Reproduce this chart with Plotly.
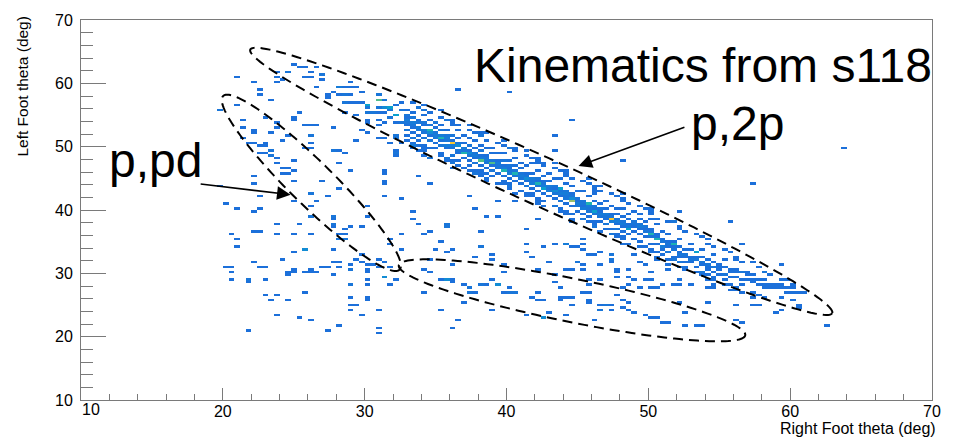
import numpy as np
import plotly.graph_objects as go

# ---------------- data: 2D histogram bins (x deg, y deg, counts) ----------------
BIN = 0.4
XMIN, XMAX, YMIN, YMAX = 10, 70, 10, 70

upper_bins = [
    (23.9,61.9,1),(24.5,61.9,2),(24.8,63.0,1),(25.5,62.8,1),(25.8,62.7,1),(26.6,62.7,1),
    (23.6,61.0,1),(23.7,60.3,1),(24.1,60.6,1),(26.0,61.6,1),(26.4,61.1,1),(25.8,61.0,1),
    (27.1,61.3,2),(27.1,60.5,1),(26.6,59.4,1),(28.0,59.5,2),(28.2,59.3,1),(28.6,59.4,1),
    (29.0,59.4,1),(29.3,59.4,1),(29.1,60.0,1),(27.3,58.3,1),(27.3,57.7,1),(27.6,58.6,1),
    (28.1,58.3,1),(28.5,58.0,1),(28.7,58.3,1),(28.5,57.1,2),(29.0,58.0,1),(29.1,57.1,1),
    (29.4,57.1,1),(29.7,57.1,1),(29.9,58.6,1),(30.0,56.3,1),(30.2,56.0,1),(30.4,56.8,5),
    (30.9,58.0,1),(31.1,58.0,1),(30.8,57.2,2),(31.1,57.2,5),(31.4,57.2,2),(31.1,56.4,2),
    (31.4,56.3,4),(31.6,56.3,5),(30.0,55.2,1),(30.2,55.2,1),(30.6,55.2,2),(30.9,55.2,1),
    (31.3,55.5,1),(30.4,54.4,1),(30.4,53.6,1),(31.1,54.1,1),(31.3,53.6,1),(31.8,54.7,2),
    (32.3,54.9,5),(32.1,53.6,1),(32.5,53.6,2),(32.2,51.8,2),(32.3,51.3,2),(30.9,51.3,1),
    (31.3,51.3,1),(31.8,50.8,1),(32.3,49.4,1),(32.3,49.0,1),(32.8,50.8,1),(33.2,50.2,1),
    (33.5,50.8,1),(29.3,51.0,1),(28.6,55.2,1),(29.3,54.9,1),(30.4,52.1,1),(31.1,53.2,1),
    (29.7,52.5,1),(32.6,55.8,2),(32.2,56.6,1),(32.6,57.0,1),(31.8,55.8,2),
    (36.6,59.1,1),(40.3,58.8,1),(44.5,54.4,1),(43.2,51.9,1),(48.1,47.7,1),(38.6,52.4,1),
    (41.2,49.3,1),(43.2,49.3,1),(42.6,47.4,1),(46.0,43.0,1),(57.4,44.4,1),(63.7,49.6,1),
    (55.6,38.2,1),(56.5,34.8,1),(59.5,31.5,1),(52.2,39.9,1),(51.7,38.0,1),(62.8,21.6,1),
    (31.4,45.8,1),(31.5,44.3,1),(34.7,44.3,1),(35.7,37.6,2),(37.2,42.0,1),(38.6,39.1,1),
    (37.6,40.0,1),(39.3,41.2,1),(40.7,41.5,1),(42.1,38.5,1),(44.0,34.5,1),(45.4,35.4,1),
    (47.3,32.9,1),(48.9,32.9,1),
]

band_bins = [
    (33.0,55.8,1),(33.0,55.0,2),(33.0,54.6,1),(33.0,54.2,3),(33.0,53.8,2),(33.0,53.4,1),(33.0,52.6,2),(33.0,51.8,1),(33.0,51.0,1),
    (33.4,55.4,1),(33.4,54.6,2),(33.4,53.8,3),(33.4,53.4,2),(33.4,53.0,1),(33.4,52.2,1),(33.4,51.4,2),(33.4,50.2,1),
    (33.8,56.2,1),(33.8,54.2,1),(33.8,53.8,2),(33.8,53.0,3),(33.8,52.6,2),(33.8,51.8,1),(33.8,51.0,1),(33.8,49.4,1),
    (34.2,55.0,1),(34.2,53.8,2),(34.2,53.4,1),(34.2,52.6,3),(34.2,52.2,2),(34.2,51.4,2),(34.2,50.2,1),
    (34.6,54.2,1),(34.6,53.4,2),(34.6,52.6,6),(34.6,52.2,4),(34.6,51.8,1),(34.6,51.0,2),(34.6,49.8,1),(34.6,48.2,1),
    (35.0,53.8,2),(35.0,53.0,1),(35.0,52.2,2),(35.0,51.8,3),(35.0,51.4,2),(35.0,50.6,1),(35.0,49.8,1),
    (35.4,53.4,1),(35.4,52.6,2),(35.4,51.8,3),(35.4,51.4,6),(35.4,51.0,1),(35.4,50.2,2),(35.4,49.0,1),
    (35.8,54.2,1),(35.8,52.6,1),(35.8,51.8,2),(35.8,51.4,3),(35.8,51.0,2),(35.8,50.2,3),(35.8,49.8,1),(35.8,48.2,1),
    (36.2,51.8,2),(36.2,51.0,1),(36.2,50.6,10),(36.2,50.2,3),(36.2,49.8,2),(36.2,48.6,2),(36.2,47.4,1),
    (36.6,52.6,1),(36.6,51.4,1),(36.6,50.6,2),(36.6,50.2,4),(36.6,49.4,2),(36.6,49.0,1),(36.6,47.8,1),
    (37.0,51.8,1),(37.0,50.6,1),(37.0,49.8,3),(37.0,49.4,2),(37.0,49.0,6),(37.0,48.2,1),(37.0,46.6,1),
    (37.4,51.4,1),(37.4,50.2,2),(37.4,49.4,1),(37.4,49.0,4),(37.4,48.6,2),(37.4,47.8,1),(37.4,47.0,1),
    (37.8,51.0,1),(37.8,49.8,1),(37.8,49.0,2),(37.8,48.6,3),(37.8,48.2,1),(37.8,47.4,2),(37.8,45.8,1),
    (38.2,50.2,1),(38.2,49.4,2),(38.2,48.6,1),(38.2,48.2,3),(38.2,47.8,7),(38.2,47.0,1),(38.2,46.2,1),
    (38.6,49.8,1),(38.6,48.6,1),(38.6,48.2,2),(38.6,47.8,3),(38.6,47.4,2),(38.6,46.6,1),(38.6,45.0,1),
    (39.0,49.8,1),(39.0,49.0,1),(39.0,47.8,2),(39.0,47.4,7),(39.0,47.0,1),(39.0,46.2,2),(39.0,45.4,1),
    (39.4,49.0,1),(39.4,47.8,1),(39.4,47.4,3),(39.4,47.0,2),(39.4,46.6,2),(39.4,45.8,1),
    (39.8,49.0,1),(39.8,47.8,2),(39.8,47.0,1),(39.8,46.6,3),(39.8,46.2,6),(39.8,45.4,1),(39.8,44.6,1),
    (40.2,47.8,1),(40.2,47.0,2),(40.2,46.6,1),(40.2,46.2,2),(40.2,45.8,3),(40.2,45.0,1),(40.2,43.8,1),
    (40.6,48.2,1),(40.6,47.0,1),(40.6,46.2,2),(40.6,45.8,6),(40.6,45.4,2),(40.6,44.6,1),
    (41.0,47.4,1),(41.0,46.6,1),(41.0,45.8,2),(41.0,45.4,3),(41.0,45.0,2),(41.0,44.2,1),(41.0,43.0,1),
    (41.4,47.0,1),(41.4,45.8,1),(41.4,45.4,2),(41.4,45.0,4),(41.4,44.6,1),(41.4,43.8,2),
    (41.8,47.4,1),(41.8,45.8,1),(41.8,45.0,3),(41.8,44.6,2),(41.8,44.2,3),(41.8,43.4,1),(41.8,42.6,1),
    (42.2,46.2,1),(42.2,45.0,2),(42.2,44.6,1),(42.2,44.2,6),(42.2,43.8,2),(42.2,43.0,1),
    (42.6,45.4,1),(42.6,44.6,1),(42.6,44.2,2),(42.6,43.8,3),(42.6,43.4,5),(42.6,42.6,1),(42.6,41.4,1),
    (43.0,45.8,1),(43.0,44.6,1),(43.0,43.8,3),(43.0,43.4,2),(43.0,43.0,3),(43.0,42.2,1),
    (43.4,45.0,1),(43.4,43.8,2),(43.4,43.4,1),(43.4,43.0,4),(43.4,42.6,2),(43.4,41.8,1),(43.4,40.6,1),
    (43.8,45.0,1),(43.8,43.4,5),(43.8,43.0,2),(43.8,42.6,3),(43.8,42.2,1),(43.8,41.4,2),
    (44.2,44.2,1),(44.2,43.0,2),(44.2,42.6,3),(44.2,42.2,2),(44.2,41.8,2),(44.2,41.0,1),
    (44.6,43.8,1),(44.6,42.6,1),(44.6,42.2,2),(44.6,41.8,4),(44.6,41.4,8),(44.6,40.6,1),(44.6,39.4,1),
    (45.0,43.0,1),(45.0,41.8,2),(45.0,41.4,1),(45.0,41.0,3),(45.0,40.6,2),(45.0,39.8,1),
    (45.4,43.0,1),(45.4,41.4,2),(45.4,41.0,2),(45.4,40.6,1),(45.4,40.2,3),(45.4,39.4,1),(45.4,38.6,1),
    (45.8,42.2,1),(45.8,41.0,6),(45.8,40.6,3),(45.8,40.2,2),(45.8,39.8,2),(45.8,39.0,1),
    (46.2,42.6,1),(46.2,41.4,1),(46.2,40.6,2),(46.2,40.2,1),(46.2,39.8,5),(46.2,39.4,2),(46.2,38.2,1),
    (46.6,41.0,1),(46.6,40.2,2),(46.6,39.8,1),(46.6,39.4,3),(46.6,39.0,2),(46.6,38.2,1),
    (47.0,41.4,1),(47.0,40.2,1),(47.0,39.4,3),(47.0,39.0,2),(47.0,38.6,1),(47.0,37.8,2),(47.0,37.0,1),
    (47.4,40.6,1),(47.4,39.4,1),(47.4,39.0,2),(47.4,38.6,10),(47.4,38.2,3),(47.4,37.0,1),
    (47.8,40.2,1),(47.8,39.4,1),(47.8,38.6,2),(47.8,38.2,3),(47.8,37.8,1),(47.8,37.0,2),(47.8,35.8,1),
    (48.2,40.2,1),(48.2,39.0,1),(48.2,38.2,2),(48.2,37.8,3),(48.2,37.4,1),(48.2,36.6,1),
    (48.6,39.4,1),(48.6,38.6,1),(48.6,37.8,1),(48.6,37.4,3),(48.6,37.0,5),(48.6,36.2,1),
    (49.0,39.8,1),(49.0,38.2,2),(49.0,37.8,2),(49.0,37.4,1),(49.0,36.6,1),(49.0,35.4,1),
    (49.4,39.4,1),(49.4,38.6,1),(49.4,37.8,2),(49.4,37.4,3),(49.4,37.0,1),(49.4,36.2,1),
    (49.8,38.2,1),(49.8,37.4,2),(49.8,37.0,1),(49.8,36.6,2),(49.8,35.8,1),
    (50.2,38.6,1),(50.2,37.0,1),(50.2,36.6,2),(50.2,36.2,6),(50.2,35.8,2),(50.2,34.6,1),
    (50.6,37.8,1),(50.6,36.2,1),(50.6,35.8,2),(50.6,35.4,6),(50.6,34.6,1),
    (51.0,36.6,1),(51.0,35.4,1),(51.0,35.0,2),(51.0,34.2,3),(51.0,33.8,1),(51.0,33.0,1),
    (51.4,36.2,1),(51.4,35.0,1),(51.4,34.6,2),(51.4,34.2,1),(51.4,33.4,2),
    (51.8,35.0,1),(51.8,34.6,6),(51.8,34.2,1),(51.8,33.8,2),(51.8,32.6,1),
    (52.2,35.4,1),(52.2,34.2,1),(52.2,33.4,1),(52.2,33.0,2),(52.2,32.6,1),(52.2,31.8,1),
    (52.6,33.8,1),(52.6,33.0,2),(52.6,32.6,1),(52.6,31.8,1),(52.6,30.6,1),
    (53.0,34.8,1),(53.0,33.6,1),(53.0,32.8,1),(53.0,32.4,2),(53.0,31.6,1),
    (53.4,33.4,5),(53.4,32.6,1),(53.4,32.2,2),(53.4,31.0,1),
    (53.8,33.8,1),(53.8,32.6,1),(53.8,31.8,2),(53.8,31.4,1),(53.8,30.2,1),
    (54.2,32.2,1),(54.2,31.4,2),(54.2,31.0,1),(54.2,30.6,1),
    (54.6,33.0,1),(54.6,31.8,1),(54.6,31.0,2),(54.6,30.2,1),(54.6,29.4,1),
    (55.0,31.4,1),(55.0,31.0,1),(55.0,30.6,1),(55.0,29.8,1),
    (55.4,32.2,1),(55.4,31.0,1),(55.4,29.8,2),(55.4,29.0,1),
    (55.8,30.6,1),(55.8,30.2,1),(55.8,29.4,1),
    (56.2,30.6,1),(56.2,30.0,1),(56.2,29.4,1),
    (56.6,30.0,2),(56.6,29.2,1),(56.6,28.4,1),
    (57.0,30.2,1),(57.0,29.6,1),(57.0,28.8,1),
    (57.4,29.6,1),(57.4,29.2,1),(57.4,28.6,1),
    (57.8,29.2,1),(57.8,28.4,1),
    (58.2,29.2,1),(58.2,28.4,1),(58.2,27.6,1),
    (58.6,28.4,1),(58.6,27.6,1),(59.0,28.0,1),(59.0,27.6,1),(59.4,28.0,1),(59.4,27.6,1),
    (59.8,27.6,1),(59.8,27.2,1),(60.2,27.6,1),(60.2,26.8,1),(60.6,26.8,1),(61.0,27.2,1),
]

# sparse bins on both flanks of the p,2p band
band_halo = [
    (33.2,57.0,1),(33.2,50.4,1),(33.2,49.6,1),(33.6,56.4,1),(33.6,50.0,1),(34.0,55.8,1),(34.0,49.2,1),(34.0,56.6,1),
    (34.4,55.6,1),(34.4,49.6,1),(34.4,48.8,1),(34.8,55.2,1),(34.8,48.4,1),(35.2,54.8,1),(35.2,55.6,1),(35.2,48.8,1),
    (35.6,54.4,1),(35.6,47.6,1),(35.6,48.4,1),(36.0,53.6,1),(36.0,54.4,1),(36.0,47.6,1),(36.4,53.4,1),(36.4,47.2,1),
    (36.4,46.8,1),(36.8,53.2,1),(36.8,47.0,1),(37.2,52.6,1),(37.2,53.4,1),(37.2,46.4,1),(37.6,52.2,1),(37.6,46.2,1),
    (37.6,45.8,1),(38.0,51.8,1),(38.0,45.6,1),(38.4,51.6,1),(38.4,52.2,1),(38.4,45.2,1),(38.8,51.0,1),(38.8,44.8,1),
    (38.8,45.6,1),(39.2,50.6,1),(39.2,44.4,1),(39.6,50.2,1),(39.6,51.0,1),(39.6,44.2,1),(40.0,49.8,1),(40.0,43.6,1),
    (40.0,44.4,1),(40.4,49.6,1),(40.4,43.2,1),(40.8,49.2,1),(40.8,49.8,1),(40.8,42.8,1),(41.2,48.6,1),(41.2,42.6,1),
    (41.2,42.0,1),(41.6,48.2,1),(41.6,42.2,1),(42.0,47.6,1),(42.0,48.4,1),(42.0,41.6,1),(42.4,47.4,1),(42.4,41.4,1),
    (42.4,41.0,1),(42.8,47.0,1),(42.8,40.8,1),(43.2,46.6,1),(43.2,47.4,1),(43.2,40.6,1),(43.6,46.2,1),(43.6,40.2,1),
    (43.6,39.6,1),(44.0,45.8,1),(44.0,39.6,1),(44.4,45.4,1),(44.4,46.2,1),(44.4,39.4,1),(44.8,45.0,1),(44.8,38.8,1),
    (44.8,38.2,1),(45.2,44.6,1),(45.2,38.6,1),(45.6,44.2,1),(45.6,45.0,1),(45.6,38.0,1),(46.0,43.8,1),(46.0,37.6,1),
    (46.0,37.2,1),(46.4,43.4,1),(46.4,37.4,1),(46.8,43.0,1),(46.8,43.8,1),(46.8,36.8,1),(47.2,42.6,1),(47.2,36.4,1),
    (47.2,36.0,1),(47.6,42.2,1),(47.6,36.2,1),(48.0,41.8,1),(48.0,42.6,1),(48.0,35.6,1),(48.4,41.4,1),(48.4,35.2,1),
    (48.4,34.8,1),(48.8,41.0,1),(48.8,34.8,1),(49.2,40.6,1),(49.2,34.4,1),(49.2,35.0,1),(49.6,40.2,1),(49.6,34.0,1),
    (50.0,39.8,1),(50.0,40.4,1),(50.0,33.6,1),(50.4,39.2,1),(50.4,33.4,1),(50.8,38.8,1),(50.8,32.8,1),(50.8,33.2,1),
    (51.2,38.4,1),(51.2,32.4,1),(51.6,38.0,1),(51.6,32.0,1),(52.0,37.4,1),(52.0,31.6,1),(52.0,31.2,1),(52.4,37.0,1),
    (52.4,31.2,1),(52.8,36.6,1),(52.8,30.8,1),(53.2,36.0,1),(53.2,30.4,1),(53.6,35.8,1),(53.6,30.0,1),(53.6,29.6,1),
    (54.0,35.2,1),(54.0,29.6,1),(54.4,34.8,1),(54.4,29.2,1),(54.8,34.4,1),(54.8,28.8,1),(54.8,28.4,1),(55.2,33.8,1),
    (55.2,28.4,1),(55.6,33.4,1),(55.6,28.0,1),(56.0,32.8,1),(56.0,27.8,1),(56.4,32.4,1),(56.4,27.4,1),(56.8,31.8,1),
    (56.8,27.2,1),(57.2,31.6,1),(57.2,26.8,1),(57.6,30.8,1),(57.6,26.6,1),(58.0,30.4,1),(58.4,30.0,1),(58.4,26.0,1),
    (58.8,29.6,1),(59.2,29.0,1),(59.2,26.4,1),(59.6,28.8,1),(60.0,28.4,1),(60.0,25.8,1),
]

pd_bins = [
    (20.9,61.0,1),(22.4,60.0,1),(22.7,59.1,1),(22.7,58.3,1),(23.4,57.4,1),(20.9,56.8,1),(19.9,55.7,2),(21.3,54.1,1),
    (21.5,52.9,1),(22.0,52.5,1),(22.2,52.1,1),(21.3,51.3,1),(21.8,50.8,1),(22.4,50.5,1),(22.9,50.5,1),(23.4,52.4,1),
    (23.9,53.6,1),(23.8,52.9,1),(23.2,54.7,1),(24.8,54.0,1),(25.3,55.2,1),(25.1,54.7,1),(24.5,51.6,1),(24.3,51.0,1),
    (25.8,53.3,1),(26.3,53.2,1),(26.6,53.2,1),(26.4,51.8,2),(26.0,50.7,1),(25.7,49.7,1),(26.4,49.7,1),(22.5,50.0,1),
    (23.0,50.0,1),(22.5,49.1,1),(22.9,49.1,1),(23.4,49.4,2),(23.4,48.8,2),(23.6,48.2,1),(23.9,47.4,1),(24.3,46.6,1),
    (24.6,46.6,1),(24.3,45.8,1),(24.6,45.8,1),(25.1,46.0,1),(25.1,47.6,1),(25.1,44.8,1),(22.4,45.5,1),(22.0,44.3,1),
    (19.9,43.7,1),(27.9,52.9,1),(27.9,49.4,2),(28.1,49.3,1),(28.1,47.4,1),(28.7,49.0,1),(29.1,46.2,1),(27.2,44.8,1),
    (28.1,43.5,1),(31.5,46.3,1),(31.5,44.6,1),(33.6,45.4,1),(32.0,49.0,1),(32.3,48.6,1),
    (20.0,40.9,1),(20.9,40.2,1),(22.0,39.8,1),(22.7,40.1,1),(22.7,42.3,1),(24.8,41.5,1),(26.2,42.6,2),(27.3,42.3,1),
    (26.3,40.5,1),(26.6,41.2,1),(26.0,39.0,2),(27.6,39.1,2),(27.6,38.5,1),(27.8,37.6,2),(27.8,37.3,1),
    (23.9,37.6,1),(25.5,37.6,1),(26.4,36.0,1),(23.9,36.0,1),(25.2,36.3,1),(20.6,36.3,1),(22.2,36.7,1),(22.5,36.7,1),
    (20.9,35.2,1),(20.9,34.3,1),(28.3,36.0,1),(28.5,36.0,1),(28.3,35.2,2),(28.5,35.2,2),(28.5,37.1,1),(28.8,37.3,1),
    (29.7,37.3,1),(27.6,33.8,1),(25.8,33.8,4),(24.8,33.2,1),(24.3,32.4,1),(22.1,31.8,1),(22.5,31.2,1),(23.0,30.9,1),
    (20.4,30.9,1),(20.7,30.9,1),(20.6,30.1,1),(20.6,29.2,1),(21.6,28.5,1),(21.8,29.0,2),(23.0,28.9,1),
    (24.5,30.4,1),(24.5,29.8,1),(25.2,30.7,1),(25.2,30.4,1),(25.8,30.0,1),(26.0,30.0,1),(26.4,30.6,1),(26.7,30.4,1),
    (26.9,30.9,1),(27.3,30.9,1),(27.6,31.7,1),(28.1,31.7,1),(28.1,31.2,1),(27.9,29.8,1),(28.8,30.7,1),(29.1,30.7,1),
    (29.1,31.5,1),(29.4,32.1,1),(29.7,31.8,1),(29.7,32.9,1),(30.0,31.5,1),(30.6,31.5,1),(31.1,32.3,1),(31.5,31.8,1),
    (31.8,31.2,1),(31.5,29.5,4),(30.3,30.6,1),(30.0,30.4,1),(31.1,30.9,1),(28.8,28.4,2),(30.0,28.9,1),(30.0,28.2,1),
    (32.1,28.9,1),(31.8,28.2,1),(25.8,27.0,1),(23.9,26.7,1),(23.0,26.7,1),(23.4,25.9,1),(24.6,25.9,1),(29.1,26.1,1),
    (30.0,26.4,1),(30.0,25.9,1),(28.8,25.0,1),(28.8,24.3,1),(29.4,25.0,1),(29.7,23.4,1),(30.9,24.3,1),(23.7,23.4,1),
    (25.5,23.1,1),(26.4,22.5,1),(28.1,21.8,1),(31.1,21.4,1),(30.9,20.5,1),(27.3,20.8,1),(21.6,21.1,1),
    (30.3,40.7,1),(30.3,39.1,1),(31.5,42.3,1),(32.7,41.6,1),(33.3,39.6,1),(33.3,38.8,1),(33.6,37.6,1),(32.7,36.0,1),
    (31.8,35.4,1),(31.8,34.5,1),(32.7,33.8,1),
]

lower_bins = [
    (35.7,37.4,2),(34.2,36.3,1),(34.6,36.7,1),(35.3,35.1,1),(38.1,36.7,1),(39.3,39.0,1),(41.4,37.0,1),(41.4,34.5,1),
    (42.6,34.3,1),(43.5,34.8,1),(44.1,34.5,2),(44.8,34.0,1),(45.1,34.0,1),(45.5,34.6,1),(45.5,33.8,1),
    (35.1,33.7,1),(35.6,33.4,1),(36.0,33.7,1),(34.6,32.1,1),(36.0,31.5,1),(38.1,34.2,2),(37.8,32.8,1),(39.0,32.9,1),
    (39.0,32.4,1),(39.7,31.5,1),(39.8,30.0,1),(41.2,33.2,1),(41.8,32.8,1),(43.0,31.8,1),(45.1,31.8,2),(45.3,31.5,1),
    (44.7,30.7,1),(45.3,30.7,1),(44.0,30.7,1),(43.5,29.6,1),(42.3,30.7,1),(45.9,32.9,1),(46.2,32.9,1),(46.7,33.4,1),
    (47.2,33.1,1),(47.2,32.4,2),(46.8,31.5,1),(47.3,31.8,1),(47.7,30.6,1),(47.7,30.0,1),(48.6,30.6,1),(47.7,29.3,1),
    (48.6,29.3,1),(45.9,28.9,1),(45.9,28.2,1),(46.6,28.9,1),(48.6,28.4,1),(48.0,27.9,1),
    (34.4,30.6,1),(34.8,30.0,1),(35.5,29.2,1),(35.7,29.0,4),(36.3,29.2,1),(36.3,28.5,1),(36.9,28.4,1),(37.2,27.6,2),
    (37.2,27.1,2),(37.8,27.1,1),(38.0,28.4,1),(38.3,28.1,1),(38.6,28.2,1),(39.3,28.2,4),(39.0,29.0,1),(39.6,27.1,1),
    (40.4,27.9,1),(40.7,26.8,2),(40.3,26.8,2),(36.9,25.3,1),(34.2,26.8,1),(35.3,24.3,1),(39.0,24.3,1),(36.5,22.6,1),
    (36.3,21.5,1),(42.1,27.1,1),(42.3,25.9,1),(42.6,25.9,1),(41.8,26.2,1),(43.2,28.7,1),(43.8,27.6,1),(43.8,26.4,1),
    (43.8,25.9,1),(44.4,26.1,1),(44.7,26.4,1),(45.4,26.8,1),(45.9,26.8,1),(45.9,25.9,1),(45.8,25.3,1),(46.7,24.3,1),
    (47.0,24.8,2),(47.2,24.3,1),(46.5,25.1,1),(47.5,25.1,1),(48.0,24.5,1),(48.3,25.6,1),(48.6,25.3,1),(47.9,26.7,1),
    (44.7,24.8,1),(44.0,23.4,1),(46.3,22.6,1),(42.6,22.9,4),(43.0,23.7,1),(41.2,23.4,1),
    (56.1,22.5,1),(52.6,21.7,1),(53.3,21.7,1),(51.5,22.0,1),(50.5,22.8,1),(51.0,22.2,1),(50.1,23.0,1),(49.1,23.6,1),
    (48.6,24.0,1),(49.6,23.3,1),(46.8,24.0,1),
    (49.1,29.2,1),(49.8,29.2,1),(50.4,29.2,1),(49.3,27.6,1),(50.0,27.6,1),(50.7,27.6,1),(51.1,28.0,1),(51.7,28.0,1),
    (52.1,28.0,1),(52.9,28.2,1),(54.0,27.6,1),(54.5,27.9,1),(55.7,27.5,1),(49.3,31.8,1),(49.8,31.5,1),(50.5,32.1,1),
    (51.2,31.5,1),(51.8,32.1,1),(51.2,30.7,1),(50.1,30.3,1),(52.0,29.2,1),
    (60.5,25.1,1),(60.5,24.5,1),(59.2,24.3,1),(58.9,23.7,1),(57.3,26.4,1),(57.3,25.1,1),(57.6,25.1,1),(56.3,24.8,1),
    (54.4,25.3,1),(52.6,23.6,1),(52.0,25.3,1),(53.8,21.7,1),(56.5,22.2,1),
]

x_ticks = [10, 20, 30, 40, 50, 60, 70]
x_ticktext = ["", "20", "30", "40", "50", "60", "70"]

# ---------------- build histogram grid ----------------
nx = int(round((XMAX - XMIN) / BIN))
ny = int(round((YMAX - YMIN) / BIN))
z = np.zeros((ny, nx))
for grp in (upper_bins, band_bins, band_halo, pd_bins, lower_bins):
    for x, y, n in grp:
        ix = int((x - XMIN) / BIN)
        iy = int((y - YMIN) / BIN)
        if 0 <= ix < nx and 0 <= iy < ny:
            z[iy, ix] += n
z[z == 0] = np.nan
xc = XMIN + BIN * (np.arange(nx) + 0.5)
yc = YMIN + BIN * (np.arange(ny) + 0.5)

# colour per count (1 .. 10), ROOT "bird"-like
count_colors = [
    [0.000, "rgb(28,112,218)"], [0.222, "rgb(22,124,216)"], [0.333, "rgb(18,140,212)"],
    [0.444, "rgb(10,160,205)"], [0.556, "rgb(30,178,180)"], [0.667, "rgb(80,188,140)"],
    [0.778, "rgb(150,190,110)"], [0.889, "rgb(215,188,85)"], [1.000, "rgb(250,200,50)"],
]

fig = go.Figure()
fig.add_trace(go.Heatmap(x=xc, y=yc, z=z, colorscale=count_colors, zmin=1, zmax=10,
                         showscale=False, hoverinfo="skip", zsmooth=False))

# ---------------- layout geometry ----------------
W, H = 953, 438
ML, MR, MT, MB = 81, 15, 15, 38
PW, PH = W - ML - MR, H - MT - MB
SX = PW / (XMAX - XMIN)
SY = PH / (YMAX - YMIN)


def ellipse_path(cx, cy, a_px, b_px, ang_deg, n=180):
    t = np.linspace(0, 2 * np.pi, n)
    th = np.radians(ang_deg)
    u, v = a_px * np.cos(t), b_px * np.sin(t)
    dx = u * np.cos(th) - v * np.sin(th)
    dy = u * np.sin(th) + v * np.cos(th)
    xs = cx + dx / SX
    ys = cy - dy / SY
    return "M " + " L ".join(f"{a:.3f},{b:.3f}" for a, b in zip(xs, ys)) + " Z"


ellipses = [
    (42.45, 44.52, 322, 24.5, 24.5),
    (26.24, 44.29, 125, 22, 44.7),
    (44.62, 25.74, 178, 22, 11.5),
]
shapes = []
for cx, cy, a, b, ang in ellipses:
    shapes.append(dict(type="path", xref="x", yref="y", path=ellipse_path(cx, cy, a, b, ang),
                       line=dict(color="black", width=2, dash="10px,6px")))

font = "Liberation Sans, Arial, Helvetica, sans-serif"
big = dict(family=font, size=48, color="black")
annotations = [
    dict(x=37.6, y=62.8, xref="x", yref="y", text="Kinematics from s118", showarrow=False,
         xanchor="left", yanchor="middle", font=big),
    dict(x=52.86, y=53.7, xref="x", yref="y", text="p,2p", showarrow=False,
         xanchor="left", yanchor="middle", font=big),
    dict(x=11.8, y=47.8, xref="x", yref="y", text="p,pd", showarrow=False,
         xanchor="left", yanchor="middle", font=big),
    dict(x=45.08, y=46.94, ax=52.65, ay=53.17, xref="x", yref="y", axref="x", ayref="y",
         text="", showarrow=True, arrowhead=2, arrowsize=1.7, arrowwidth=1.6, arrowcolor="black",
         standoff=0, startstandoff=0),
    dict(x=24.78, y=42.42, ax=18.33, ay=44.13, xref="x", yref="y", axref="x", ayref="y",
         text="", showarrow=True, arrowhead=2, arrowsize=1.7, arrowwidth=1.6, arrowcolor="black",
         standoff=0, startstandoff=0),
    dict(x=(22 - ML) / PW, y=(PH + MT - 82) / PH, xref="paper", yref="paper",
         text="Left Foot theta (deg)", textangle=-90, showarrow=False,
         xanchor="center", yanchor="middle", font=dict(family=font, size=15.5, color="black")),
    dict(x=(944 - ML) / PW, y=(PH + MT - 429) / PH, xref="paper", yref="paper",
         text="Right Foot theta (deg)", showarrow=False,
         xanchor="right", yanchor="middle", font=dict(family=font, size=16, color="black")),
    dict(x=(91 - ML) / PW, y=(PH + MT - 410) / PH, xref="paper", yref="paper",
         text="10", showarrow=False,
         xanchor="center", yanchor="middle", font=dict(family=font, size=16, color="black")),
]

axcol = "#7a7a7a"
fig.update_layout(
    width=W, height=H, margin=dict(l=ML, r=MR, t=MT, b=MB, pad=0),
    paper_bgcolor="white", plot_bgcolor="white",
    shapes=shapes, annotations=annotations, showlegend=False,
    font=dict(family=font, size=16, color="black"),
    xaxis=dict(range=[XMIN, XMAX], tickmode="array", tickvals=x_ticks, ticktext=x_ticktext,
               ticks="inside", ticklen=12, tickcolor=axcol, showgrid=False, zeroline=False,
               showline=True, linecolor=axcol, linewidth=1, mirror=True,
               tickfont=dict(family=font, size=16, color="black"), ticklabelstandoff=-3,
               minor=dict(dtick=2, tick0=10, ticks="inside", ticklen=6, tickcolor=axcol, showgrid=False)),
    yaxis=dict(range=[YMIN, YMAX], dtick=10, tick0=10, ticks="inside", ticklen=25, tickcolor=axcol,
               showgrid=False, zeroline=False, showline=True, linecolor=axcol, linewidth=1, mirror=True,
               tickfont=dict(family=font, size=16, color="black"), ticklabelstandoff=4,
               minor=dict(dtick=2, tick0=10, ticks="inside", ticklen=12, tickcolor=axcol, showgrid=False)),
)

fig.write_html("out.html")
